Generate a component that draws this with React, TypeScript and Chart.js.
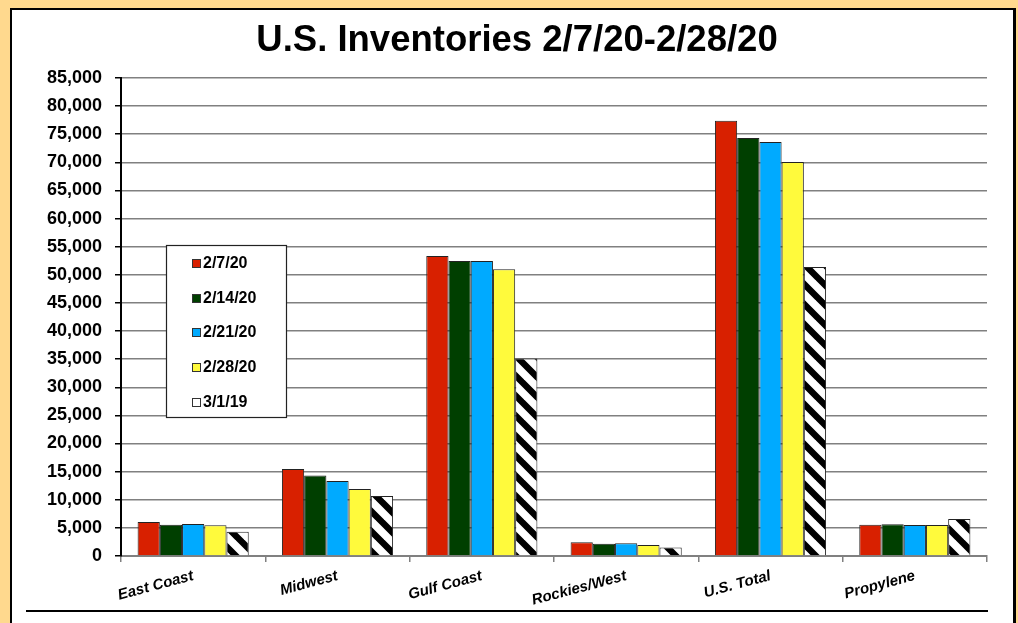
import { useEffect, useRef } from 'react';
import { Chart, registerables } from 'chart.js';

Chart.register(...registerables);

const titleText = 'U.S. Inventories 2/7/20-2/28/20';
const categories = ['East Coast', 'Midwest', 'Gulf Coast', 'Rockies/West', 'U.S. Total', 'Propylene'];
const seriesLabels = ['2/7/20', '2/14/20', '2/21/20', '2/28/20', '3/1/19'];
const feb7 = [6050, 15450, 53350, 2450, 77400, 5550];
const feb14 = [5550, 14300, 52450, 2200, 74350, 5650];
const feb21 = [5700, 13350, 52450, 2250, 73600, 5500];
const feb28 = [5450, 11900, 51000, 1950, 70050, 5500];
const mar19 = [4300, 10650, 35100, 1500, 51400, 6600];
const yTickValues = [0, 5000, 10000, 15000, 20000, 25000, 30000, 35000, 40000, 45000, 50000, 55000, 60000, 65000, 70000, 75000, 80000, 85000];

const seriesColors = ['#D82000', '#003F00', '#00AAFF', '#FFFA3C', 'hatch'];
const FONT = '"Liberation Sans", Arial, Helvetica, sans-serif';

function makeHatch(): CanvasPattern | string {
  const s = 20;
  const c = document.createElement('canvas');
  c.width = s;
  c.height = s;
  const g = c.getContext('2d');
  if (!g) return '#fff';
  g.fillStyle = '#fff';
  g.fillRect(0, 0, s, s);
  g.strokeStyle = '#000';
  g.lineWidth = 6.5;
  g.beginPath();
  for (let k = -1; k <= 1; k++) {
    g.moveTo(k * s - 2, -2);
    g.lineTo(k * s + s + 2, s + 2);
  }
  g.stroke();
  const p = g.createPattern(c, 'repeat');
  return p || '#fff';
}

const titlePlugin = {
  id: 'customTitle',
  afterDraw(chart: any) {
    const ctx = chart.ctx as CanvasRenderingContext2D;
    ctx.save();
    ctx.fillStyle = '#000';
    ctx.font = `bold 36.5px ${FONT}`;
    ctx.textAlign = 'center';
    ctx.textBaseline = 'middle';
    ctx.fillText(titleText, 517, 41);
    ctx.restore();
  },
};

const legendBoxPlugin = {
  id: 'legendBox',
  afterDatasetsDraw(chart: any) {
    const ctx = chart.ctx as CanvasRenderingContext2D;
    const x = 166, y = 245, w = 120, h = 172;
    ctx.save();
    ctx.fillStyle = '#fff';
    ctx.fillRect(x, y, w, h);
    ctx.strokeStyle = '#222';
    ctx.lineWidth = 1.2;
    ctx.strokeRect(x + 0.5, y + 0.5, w, h);
    const rowY = [263, 298, 332, 367, 402];
    chart.data.datasets.forEach((ds: any, i: number) => {
      const cy = rowY[i];
      const col = seriesColors[i] === 'hatch' ? '#fff' : seriesColors[i];
      ctx.fillStyle = col;
      ctx.fillRect(192, cy - 4, 9, 9);
      ctx.strokeStyle = '#333';
      ctx.lineWidth = 1;
      ctx.strokeRect(192.5, cy - 3.5, 8, 8);
      ctx.fillStyle = '#000';
      ctx.font = `bold 16px ${FONT}`;
      ctx.textBaseline = 'middle';
      ctx.textAlign = 'left';
      ctx.fillText(ds.label, 203, cy + 1);
    });
    ctx.restore();
  },
};

export default function App() {
  const ref = useRef<HTMLCanvasElement | null>(null);

  useEffect(() => {
    if (!ref.current) return;
    const hatch = makeHatch();
    const seriesData = [feb7, feb14, feb21, feb28, mar19];
    const chart = new Chart(ref.current, {
      type: 'bar',
      data: {
        labels: categories,
        datasets: seriesLabels.map((label, i) => ({
          label,
          data: seriesData[i],
          backgroundColor: seriesColors[i] === 'hatch' ? (hatch as any) : seriesColors[i],
          borderColor: '#222',
          borderWidth: 1,
          categoryPercentage: 0.77,
          barPercentage: 1.0,
        })),
      },
      options: {
        responsive: false,
        animation: false,
        devicePixelRatio: 1,
        layout: { padding: { left: 0, right: 31, top: 78, bottom: 0 } },
        plugins: {
          legend: { display: false },
          tooltip: { enabled: false },
          title: { display: false },
        },
        scales: {
          x: {
            grid: {
              display: true,
              drawOnChartArea: false,
              drawTicks: true,
              tickLength: 6,
              color: '#808080',
              lineWidth: 1.5,
              offset: true,
            },
            border: { color: '#808080', width: 2 },
            ticks: {
              color: '#000',
              font: { family: FONT, size: 15, weight: 'bold', style: 'italic' },
              minRotation: 15,
              maxRotation: 15,
              autoSkip: false,
              padding: 5,
            },
            afterFit: (s: any) => {
              s.height = 67;
            },
          },
          y: {
            min: 0,
            max: 85000,
            afterBuildTicks: (s: any) => {
              s.ticks = yTickValues.map((v) => ({ value: v }));
            },
            ticks: {
              color: '#000',
              font: { family: FONT, size: 18, weight: 'bold' },
              padding: 13,
              callback: (v: any) => Number(v).toLocaleString('en-US'),
            },
            grid: { color: '#808080', lineWidth: 1.5, tickLength: 6, tickColor: '#000' },
            border: { color: '#000', width: 2 },
            afterFit: (s: any) => {
              s.width = 121;
            },
          },
        },
      } as any,
      plugins: [legendBoxPlugin, titlePlugin],
    });
    return () => chart.destroy();
  }, []);

  return (
    <div
      style={{
        position: 'fixed',
        left: 0,
        top: 0,
        width: 1018,
        height: 623,
        overflow: 'hidden',
        background: '#FFD98E',
      }}
    >
      <div
        style={{
          position: 'absolute',
          left: 10,
          top: 8,
          width: 1001,
          height: 700,
          background: '#fff',
          border: '2px solid #000',
          borderRightWidth: 3,
        }}
      />
      <div
        style={{
          position: 'absolute',
          left: 26,
          top: 610,
          width: 962,
          height: 2,
          background: '#000',
        }}
      />
      <canvas
        ref={ref}
        width={1018}
        height={623}
        style={{ position: 'absolute', left: 0, top: 0, width: 1018, height: 623 }}
      />
    </div>
  );
}
